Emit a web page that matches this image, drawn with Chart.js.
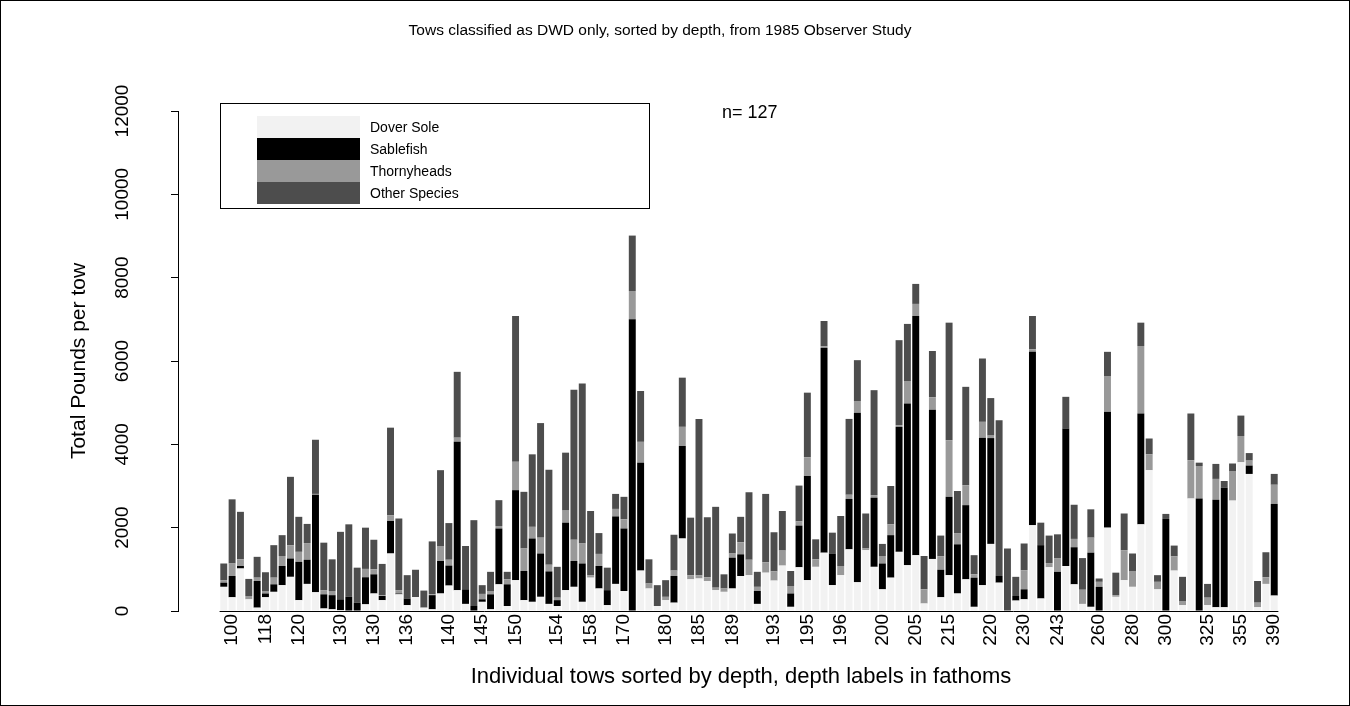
<!DOCTYPE html>
<html>
<head>
<meta charset="utf-8">
<script src="https://cdn.jsdelivr.net/npm/chart.js@4.4.1/dist/chart.umd.min.js"></script>
<style>
    html, body { margin: 0; padding: 0; background: #fff; }
    canvas { display: block; }
</style>
</head>
<body>
<canvas id="towChart" width="1350" height="706"></canvas>
<script>
// pounds per tow, tows sorted by depth (127 tows)
const doverSole = [580,330,1020,280,80,330,460,620,820,260, 650,450,60,40,20,0,0,160,420,260,
    1380,400,140,340,80,40,420,610,500,170, 0,220,40,640,120,740,260,220,340,170,
    120,500,580,220,800,540,140,650,480,0, 970,540,120,260,200,1740,760,780,720,500,
    460,540,840,860,170,920,730,1090,100,1050, 740,1060,1400,620,860,1480,690,1460,1060,520,
    800,1420,1100,1340,180,1250,330,860,420,760, 100,620,1610,680,0,250,280,2060,300,1050,
    0,1080,640,170,100,0,2000,340,740,580, 2080,3380,520,0,970,140,2700,0,140,90,
    90,2650,3570,3290,90,650,370];

const sablefish = [100,510,60,0,640,90,180,460,440,920, 580,2340,340,340,260,340,200,650,460,100,
    780,20,160,20,0,340,780,480,3560,350, 120,60,360,1340,520,2160,700,1520,1040,780,
    140,1620,620,920,0,540,360,1620,1500,7000, 2590,0,0,0,640,2220,0,0,0,0,
    0,740,520,0,310,0,0,0,320,1000, 2500,0,4920,760,0,1210,4070,0,1660,620,
    1020,3000,3880,5740,0,3580,660,1880,1180,1780, 700,3540,2540,160,0,110,240,4160,1280,0,
    940,3300,890,0,1300,580,2780,0,0,0, 2660,0,0,2210,0,0,0,2700,0,2580,
    2870,0,0,200,0,0,2200];

const thornyheads = [60,300,160,80,80,60,160,240,320,240, 400,20,100,100,0,0,0,200,120,20,
    140,80,0,0,0,20,360,140,100,0, 0,130,80,60,120,680,540,280,380,160,
    60,290,510,480,60,290,0,180,220,680, 500,120,0,80,130,460,100,80,90,60,
    80,100,290,370,100,250,220,360,180,100, 450,180,30,0,220,100,280,40,60,180,
    260,40,540,290,340,300,320,1360,260,480, 80,380,60,0,0,0,460,60,0,100,
    320,0,200,340,360,120,860,40,720,380, 1620,380,180,0,340,100,920,780,180,500,
    0,710,630,120,110,160,460];

const otherSpecies = [400,1540,1140,410,500,450,780,500,1640,840, 460,1300,1140,760,1620,1740,840,990,710,750,
    2100,1720,560,630,410,1270,1820,880,1580,1040, 2060,210,460,620,180,3500,1360,1740,2750,2280,
    740,1390,3600,3840,1540,500,540,360,540,1330, 1220,580,500,400,860,1180,1380,3750,1440,1940,
    340,480,610,1620,360,1640,940,950,360,860, 1550,480,610,500,1200,1820,980,840,2520,290,
    920,2040,1370,480,800,1110,500,2820,1020,2360, 460,1520,900,3740,1500,460,640,800,540,660,
    580,760,820,760,680,80,580,540,880,420, 560,380,160,120,260,580,1120,80,330,360,
    160,180,490,180,520,600,260];

// depth labels (fathoms) that are printed, keyed by tow number
const depthTicks = {1:'100', 5:'118', 9:'120', 14:'130', 18:'130', 22:'136', 27:'140', 31:'145',
    35:'150', 40:'154', 44:'158', 48:'170', 53:'180', 57:'185', 61:'189', 66:'193', 70:'195',
    74:'196', 79:'200', 83:'205', 87:'215', 92:'220', 96:'230', 100:'243', 105:'260', 109:'280',
    113:'300', 118:'325', 122:'355', 126:'390'};

const speciesNames = ['Dover Sole', 'Sablefish', 'Thornyheads', 'Other Species'];
const speciesColors = ['#f2f2f2', '#000000', '#999999', '#4d4d4d'];
const yTicks = [0, 2000, 4000, 6000, 8000, 10000, 12000];

const FONT = '"Liberation Sans", Arial, Helvetica, sans-serif';

function toPoints(values) {
    return values.map((v, i) => ({ x: i, y: v }));
}

function buildDatasets() {
    const series = [doverSole, sablefish, thornyheads, otherSpecies];
    return series.map((values, k) => ({
        label: speciesNames[k],
        data: toPoints(values),
        backgroundColor: speciesColors[k],
        borderWidth: 0,
        categoryPercentage: 1,
        barPercentage: 1 / 1.2
    }));
}

const decorPlugin = {
    id: 'towDecor',
    beforeDraw(chart) {
        const { ctx, width, height } = chart;
        ctx.save();
        ctx.fillStyle = '#fff';
        ctx.fillRect(0, 0, width, height);
        ctx.restore();
    },
    afterDraw(chart) {
        const { ctx, width, height, scales: { x, y } } = chart;
        ctx.save();
        ctx.fillStyle = '#000';
        ctx.strokeStyle = '#000';
        ctx.lineWidth = 1;

        // baseline under the bars
        const y0 = Math.round(y.getPixelForValue(0)) + 0.5;
        ctx.beginPath();
        ctx.moveTo(x.getPixelForValue(-0.5), y0);
        ctx.lineTo(x.getPixelForValue(doverSole.length - 0.5), y0);
        ctx.stroke();

        // y tick labels, parallel to the axis
        ctx.font = '19px ' + FONT;
        ctx.textAlign = 'center';
        ctx.textBaseline = 'middle';
        yTicks.forEach(v => {
            ctx.save();
            ctx.translate(123, y.getPixelForValue(v));
            ctx.rotate(-Math.PI / 2);
            ctx.fillText(String(v), 0, 0);
            ctx.restore();
        });

        // titles
        ctx.font = '15.5px ' + FONT;
        ctx.fillText('Tows classified as DWD only, sorted by depth, from 1985 Observer Study', 660, 31);
        ctx.font = '22px ' + FONT;
        ctx.fillText('Individual tows sorted by depth, depth labels in fathoms', 741, 677);
        ctx.font = '21px ' + FONT;
        ctx.save();
        ctx.translate(79, 361);
        ctx.rotate(-Math.PI / 2);
        ctx.fillText('Total Pounds per tow', 0, 0);
        ctx.restore();

        ctx.font = '18px ' + FONT;
        ctx.textAlign = 'left';
        ctx.fillText('n= ' + doverSole.length, 722, 113);

        // legend
        ctx.strokeRect(220.5, 103.5, 429, 105);
        ctx.font = '14px ' + FONT;
        speciesNames.forEach((name, k) => {
            const top = 116 + k * 22;
            ctx.fillStyle = speciesColors[k];
            ctx.fillRect(257, top, 103, 22);
            ctx.fillStyle = '#000';
            ctx.fillText(name, 370, top + 12);
        });

        // outer frame
        ctx.strokeRect(0.5, 0.5, width - 1, height - 1);
        ctx.restore();
    }
};

function drawTowChart() {
    const ctx = document.getElementById('towChart').getContext('2d');
    new Chart(ctx, {
        type: 'bar',
        data: { datasets: buildDatasets() },
        options: {
            responsive: false,
            animation: false,
            layout: { padding: { top: 111, right: 30, bottom: 0, left: 0 } },
            plugins: {
                legend: { display: false },
                title: { display: false },
                tooltip: { enabled: false }
            },
            scales: {
                x: {
                    type: 'linear',
                    stacked: true,
                    offset: false,
                    min: -5.49,
                    max: 131.49,
                    afterBuildTicks: scale => {
                        scale.ticks = Object.keys(depthTicks).map(k => ({ value: Number(k) }));
                    },
                    afterFit: scale => { scale.height = 95; },
                    ticks: {
                        autoSkip: false,
                        minRotation: 90,
                        maxRotation: 90,
                        padding: 3,
                        color: '#000',
                        font: { family: FONT, size: 19 },
                        callback: v => depthTicks[v] || ''
                    },
                    grid: { display: false, drawTicks: false, tickLength: 0 },
                    border: { display: false }
                },
                y: {
                    stacked: true,
                    min: 0,
                    max: 12000,
                    afterBuildTicks: scale => {
                        scale.ticks = yTicks.map(v => ({ value: v }));
                    },
                    afterFit: scale => { scale.width = 178; },
                    ticks: { display: false },
                    grid: {
                        drawOnChartArea: false,
                        drawTicks: true,
                        tickLength: 7,
                        color: '#000'
                    },
                    border: { display: true, color: '#000', width: 1 }
                }
            }
        },
        plugins: [decorPlugin]
    });
}

drawTowChart();
</script>
</body>
</html>
